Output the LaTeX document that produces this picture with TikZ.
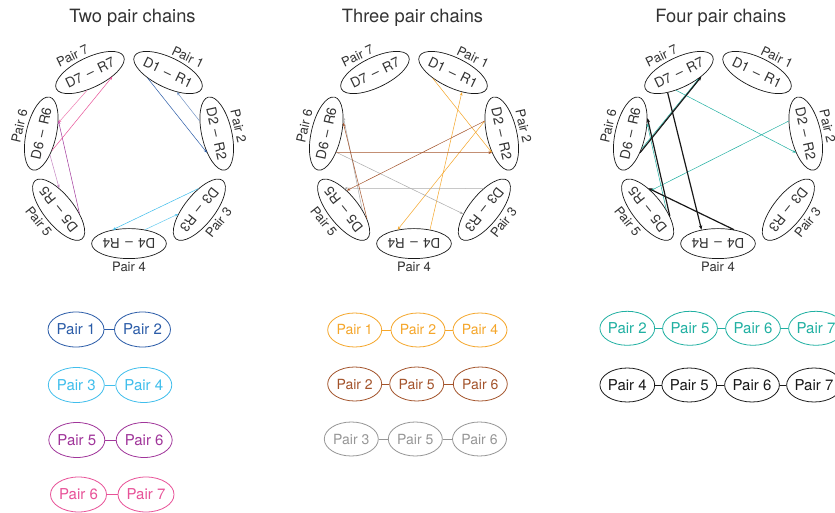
\documentclass[tikz,border=0pt]{standalone}
\usepackage{fontspec}
\setmainfont{TeX Gyre Heros}
\usetikzlibrary{arrows.meta,calc,shapes.geometric}
\definecolor{txt}{RGB}{51,51,51}
\definecolor{cBlue}{RGB}{43,92,168}
\definecolor{cSky}{RGB}{64,190,236}
\definecolor{cPurple}{RGB}{160,53,154}
\definecolor{cPink}{RGB}{232,82,152}
\definecolor{cOrange}{RGB}{245,166,42}
\definecolor{cBrown}{RGB}{163,83,43}
\definecolor{cGray}{RGB}{150,150,150}
\definecolor{cTeal}{RGB}{32,176,162}
\definecolor{cBlack}{RGB}{25,25,25}
\tikzset{
  ringell/.style={ellipse, draw=cBlack, line width=0.7pt, minimum width=67pt, minimum height=30pt, inner sep=0pt, text=txt, font=\fontsize{13.6}{13.6}\selectfont},
  ringlab/.style={text=txt, inner sep=0pt, font=\fontsize{13}{13}\selectfont},
  chainell/.style={ellipse, draw=#1, text=#1, line width=0.8pt, minimum width=56pt, minimum height=35pt, inner sep=0pt, font=\fontsize{15}{15}\selectfont},
  chainellb/.style={chainell=#1, minimum width=54pt, minimum height=34pt, font=\fontsize{14}{14}\selectfont},
  chainellc/.style={chainell=#1, minimum width=54pt, minimum height=34pt},
  chainlink/.style={line width=0.8pt},
  donate/.style={line width=0.5pt, -{Stealth[length=3.5pt,width=2.6pt]}},
  heavy/.style={line width=1.2pt, -{Stealth[length=4.5pt,width=3.5pt]}},
  title/.style={text=txt, inner sep=0pt, font=\fontsize{18.3}{18.3}\selectfont}
}
\newcommand{\drawring}[3]{%
  \coordinate (#1c) at (#2,#3);
  \foreach \k/\lang in {1/58.5,2/14,3/-37.5,4/-90,5/-143,6/166,7/120} {
    \pgfmathsetmacro{\th}{64.2857-(\k-1)*51.4286}
    \pgfmathsetmacro{\rot}{\th-90}
    \pgfmathsetmacro{\lrot}{mod(\rot+810,180)-90}
    \node[ringell, rotate=\rot] (#1P\k) at ($(#1c)+(-\th:90)$) {D\k\hspace{1.5pt} – \hspace{1.5pt}R\k};
    \node[ringlab, rotate=\lrot] (#1L\k) at ($(#1c)+(-\lang:113)$) {Pair \k};
  }
}
\begin{document}
\begin{tikzpicture}[x=1pt,y=-1pt]
\useasboundingbox (0,0) rectangle (835,513);
\clip (0,0) rectangle (835,513);
\fill[white] (0,0) rectangle (835,513);

% titles
\node[title] (t1) at (132.5,17.5) {Two pair chains};
\node[title] (t2) at (412.5,17.5) {Three pair chains};
\node[title] (t3) at (720.8,17.5) {Four pair chains};

% rings
\drawring{a}{129}{153.6}
\drawring{b}{414}{153.6}
\drawring{c}{718}{153.6}

% panel 1 exchanges
\draw[donate,cBlue] (aP1.-139) -- (aP2.-40);
\draw[donate,cBlue!65] (aP2.-139) -- (aP1.-40);
\draw[donate,cSky] (aP3.-139) -- (aP4.-40);
\draw[donate,cSky!80] (aP4.-139) -- (aP3.-40);
\draw[donate,cPurple] (aP5.-139) -- (aP6.-40);
\draw[donate,cPurple!60] (aP6.-145) -- (aP5.-40);
\draw[donate,cPink] (aP6.-135) -- (aP7.-36);
\draw[donate,cPink!75] (aP7.-125) -- (aP6.-45);

% panel 2 exchanges
\draw[donate,cOrange] (bP1.-139) -- (bP2.-40);
\draw[donate,cOrange] (bP2.-139) -- (bP4.-40);
\draw[donate,cOrange] (bP4.-139) -- (bP1.-40);
\draw[donate,cGray!80] (bP3.-139) -- (bP5.-40);
\draw[donate,cGray!80] (bP5.-128) -- (bP6.-33);
\draw[donate,cGray!80] (bP6.-139) -- (bP3.-40);
\draw[donate,cBrown] (bP2.-139) -- (bP5.-48);
\draw[donate,cBrown] (bP5.-150) -- (bP6.-45);
\draw[donate,cBrown] (bP6.-139) -- (bP2.-40);

% panel 3 exchanges
\draw[donate,cTeal] (cP2.-139) -- (cP5.-48);
\draw[donate,cTeal] (cP5.-128) -- (cP6.-47);
\draw[donate,cTeal] (cP6.-130) -- (cP7.-42);
\draw[donate,cTeal] (cP7.-125) -- (cP2.-40);
\draw[heavy,cBlack] (cP4.-139) -- (cP5.-40);
\draw[heavy,cBlack] (cP5.-145) -- (cP6.-35);
\draw[heavy,cBlack] (cP6.-140) -- (cP7.-36);
\draw[heavy,cBlack] (cP7.-145) -- (cP4.-40);

% panel 1 chains
\node[chainell=cBlue] (a11) at (76,329.5) {Pair 1};
\node[chainell=cBlue] (a12) at (142.5,329.5) {Pair 2};
\draw[chainlink,cBlue] (a11) -- (a12);
\node[chainell=cSky] (a21) at (76.3,385) {Pair 3};
\node[chainell=cSky] (a22) at (143.8,385) {Pair 4};
\draw[chainlink,cSky] (a21) -- (a22);
\node[chainell=cPurple] (a31) at (76.8,440) {Pair 5};
\node[chainell=cPurple] (a32) at (144.2,440) {Pair 6};
\draw[chainlink,cPurple] (a31) -- (a32);
\node[chainell=cPink] (a41) at (78.5,494.5) {Pair 6};
\node[chainell=cPink] (a42) at (146,494.5) {Pair 7};
\draw[chainlink,cPink] (a41) -- (a42);

% panel 2 chains
\node[chainellb=cOrange] (b11) at (354.7,330) {Pair 1};
\node[chainellb=cOrange] (b12) at (418,330) {Pair 2};
\node[chainellb=cOrange] (b13) at (480,330) {Pair 4};
\draw[chainlink,cOrange] (b11) -- (b12) (b12) -- (b13);
\node[chainellb=cBrown] (b21) at (354.7,384) {Pair 2};
\node[chainellb=cBrown] (b22) at (416.7,384) {Pair 5};
\node[chainellb=cBrown] (b23) at (480.3,384) {Pair 6};
\draw[chainlink,cBrown] (b21) -- (b22) (b22) -- (b23);
\node[chainellb=cGray] (b31) at (351.3,439) {Pair 3};
\node[chainellb=cGray] (b32) at (415.3,439) {Pair 5};
\node[chainellb=cGray] (b33) at (479.5,439) {Pair 6};
\draw[chainlink,cGray] (b31) -- (b32) (b32) -- (b33);

% panel 3 chains
\node[chainellc=cTeal] (c11) at (627.3,328.3) {Pair 2};
\node[chainellc=cTeal] (c12) at (690,328.3) {Pair 5};
\node[chainellc=cTeal] (c13) at (753,328.3) {Pair 6};
\node[chainellc=cTeal] (c14) at (816,328.3) {Pair 7};
\draw[chainlink,cTeal] (c11) -- (c12) (c12) -- (c13) (c13) -- (c14);
\node[chainellc=cBlack] (c21) at (627.3,385) {Pair 4};
\node[chainellc=cBlack] (c22) at (689.3,385) {Pair 5};
\node[chainellc=cBlack] (c23) at (752,385) {Pair 6};
\node[chainellc=cBlack] (c24) at (814,385) {Pair 7};
\draw[chainlink,cBlack] (c21) -- (c22) (c22) -- (c23) (c23) -- (c24);
\end{tikzpicture}
\end{document}
